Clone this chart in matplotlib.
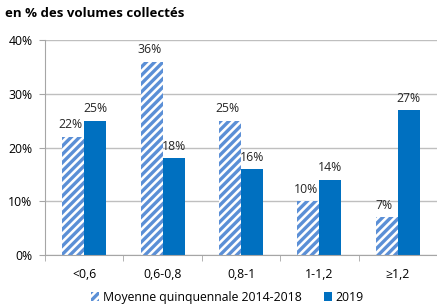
import numpy as np
import matplotlib.pyplot as plt

plt.rcParams['font.family'] = ['Open Sans', 'DejaVu Sans']
plt.rcParams['hatch.linewidth'] = 2.4
plt.rcParams['hatch.color'] = '#5b8fd6'

categories = ['<0,6', '0,6-0,8', '0,8-1', '1-1,2', '≥1,2']
moyenne = [22, 36, 25, 10, 7]
annee_2019 = [25, 18, 16, 14, 27]
labels = ['Moyenne quinquennale 2014-2018', '2019']

fig = plt.figure(figsize=(4.37, 3.08), dpi=100)
ax = fig.add_axes([0.103, 0.172, 0.897, 0.698])

x = np.arange(len(categories))
w = 0.28
b1 = ax.bar(x - w / 2, moyenne, w, color='white', edgecolor='#5b8fd6',
            hatch='////', linewidth=0, label=labels[0])
b2 = ax.bar(x + w / 2, annee_2019, w, color='#0070c0', label=labels[1])

fs = 8.8
for rect, v in zip(b1, moyenne):
    ax.text(rect.get_x() + rect.get_width() / 2 - 0.03, v + 1.0, '%d%%' % v,
            ha='center', va='bottom', fontsize=fs, color='#262626')
for rect, v in zip(b2, annee_2019):
    ax.text(rect.get_x() + rect.get_width() / 2, v + 1.0, '%d%%' % v,
            ha='center', va='bottom', fontsize=fs, color='#262626')

ax.set_xlim(-0.5, len(categories) - 0.5)
ax.set_ylim(0, 40)
ax.set_yticks([0, 10, 20, 30, 40])
ax.set_yticklabels(['0%', '10%', '20%', '30%', '40%'], fontsize=fs)
ax.set_xticks(x)
ax.set_xticklabels(categories, fontsize=fs)
ax.set_xticks(np.arange(-0.5, len(categories)), minor=True)
ax.tick_params(axis='x', which='major', length=0, pad=9)
ax.tick_params(axis='x', which='minor', length=4, color='#a6a6a6')
ax.tick_params(axis='y', length=4, color='#a6a6a6', pad=5)
ax.yaxis.grid(True, color='#bfbfbf', linewidth=1)
ax.set_axisbelow(True)
for s in ['top', 'right']:
    ax.spines[s].set_visible(False)
for s in ['left', 'bottom']:
    ax.spines[s].set_color('#a6a6a6')

fig.text(0.012, 0.955, 'en % des volumes collectés', fontsize=9.5, fontweight='bold',
         va='center', ha='left')

fig.legend(handles=[b1, b2], labels=labels, loc='center', bbox_to_anchor=(0.52, 0.035),
           ncol=2, frameon=False, fontsize=fs, handlelength=0.7, handleheight=0.7,
           handletextpad=0.3, columnspacing=1.8)

fig.savefig('out.png', dpi=100)
